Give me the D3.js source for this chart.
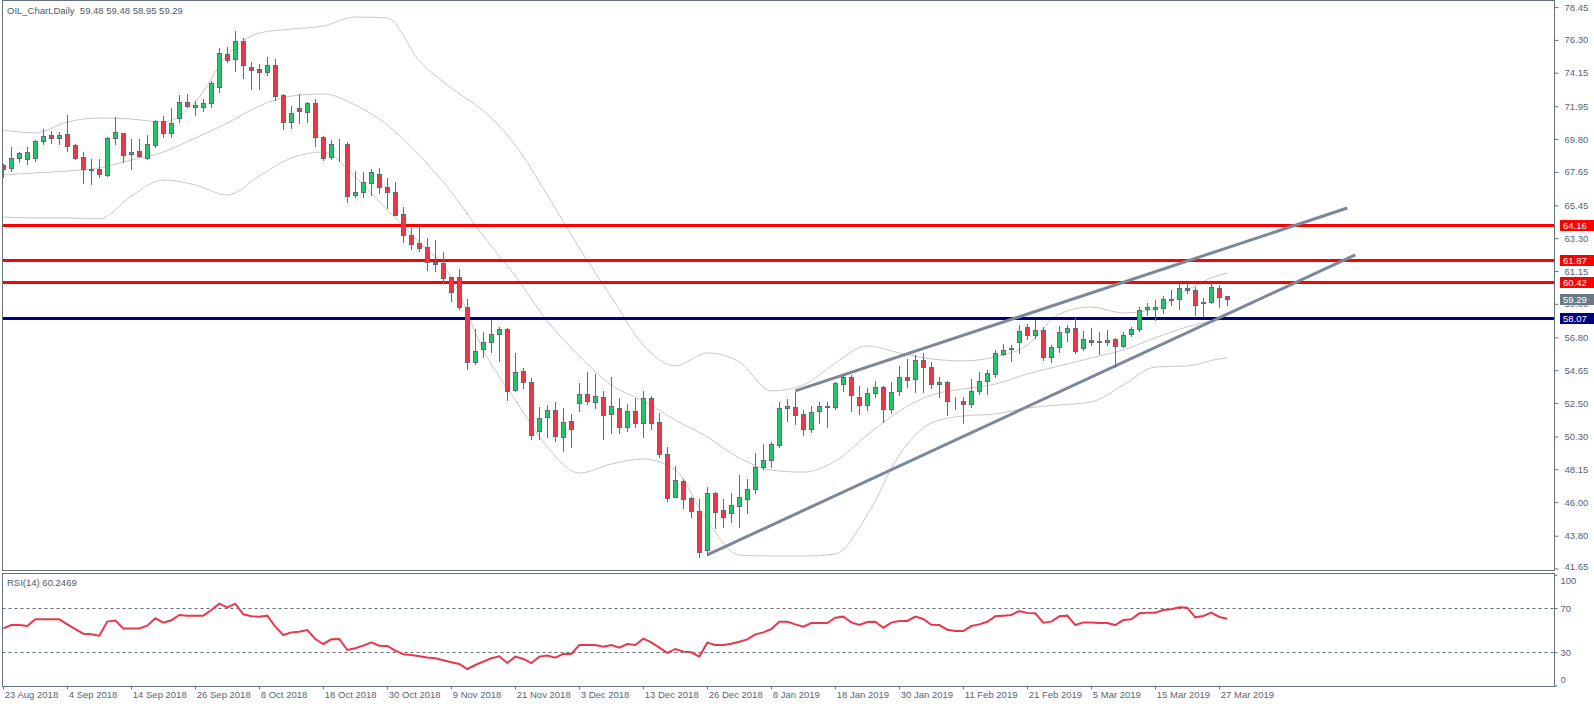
<!DOCTYPE html>
<html>
<head>
<meta charset="utf-8">
<script src="https://cdn.jsdelivr.net/npm/d3@7"></script>
<style>
  html, body { margin: 0; padding: 0; background: #fff; }
  svg { display: block; font-family: "Liberation Sans", Arial, sans-serif; }
  .tick text { fill: #56657a; font-size: 9.5px; }
</style>
</head>
<body>
<svg id="chart" width="1594" height="707"></svg>
<script>
// daily candles, bar 0 = 23 Aug 2018, last bar = 28 Mar 2019
const openP = [68.10,67.88,68.54,68.47,68.54,69.65,70.04,69.85,70.11,69.41,68.60,67.86,67.82,67.47,69.85,70.17,68.80,68.99,68.54,69.43,
  70.98,70.17,71.16,72.21,71.88,71.92,72.14,73.23,75.35,75.03,76.23,74.55,74.37,74.18,74.63,72.69,70.94,71.81,71.60,72.14,
  69.91,68.65,69.48,69.45,66.11,66.31,66.90,67.49,66.64,66.31,64.87,63.49,62.99,62.70,61.76,61.65,60.74,60.74,58.81,55.21,
  56.02,56.52,57.00,57.33,53.38,54.62,53.90,50.64,51.56,52.06,50.25,51.30,52.48,53.07,52.54,52.87,51.76,52.15,50.90,51.98,
  51.17,52.81,51.23,49.13,46.31,47.37,46.25,45.40,42.86,46.58,45.46,45.27,45.77,46.19,46.84,48.28,48.76,49.73,52.15,52.26,
  51.76,50.77,52.00,52.26,52.22,53.76,54.18,52.92,52.35,53.13,53.57,52.09,53.26,54.23,54.05,55.30,54.84,53.72,53.90,52.66,
  52.61,52.41,53.31,53.96,54.42,55.73,56.02,56.48,57.46,56.98,57.26,55.54,56.15,57.13,57.39,56.08,56.61,56.52,56.48,56.67,
  56.24,57.02,57.35,58.64,58.68,58.70,59.23,59.30,60.02,59.88,59.03,59.12,60.02,59.48];
const highP = [68.15,69.30,68.97,69.30,69.74,70.44,70.33,70.24,71.38,69.48,68.97,68.52,68.47,69.96,71.27,70.22,69.83,69.83,70.09,71.05,
  71.31,71.81,72.69,72.73,72.32,72.40,73.61,75.75,75.86,76.88,76.45,74.85,74.70,75.20,75.03,72.75,71.97,72.73,72.25,72.40,
  70.00,69.74,69.78,69.59,67.71,67.62,67.84,67.93,67.23,66.97,65.32,63.95,64.10,63.29,63.18,62.37,60.78,61.26,59.29,57.32,
  57.18,57.94,57.50,57.39,55.80,54.77,54.12,52.22,52.37,52.54,52.15,51.76,53.79,54.51,54.40,53.29,54.18,52.81,52.43,52.81,
  53.29,52.96,51.82,49.64,48.37,47.52,46.35,46.19,47.02,46.69,46.19,46.58,47.78,47.50,49.20,49.81,49.94,52.56,52.74,53.24,
  52.04,52.30,52.56,52.59,53.90,54.40,54.33,53.61,53.46,53.94,53.61,53.90,54.93,55.38,55.65,55.75,55.21,54.23,53.96,52.92,
  52.92,54.07,54.55,54.66,55.97,56.37,56.30,57.61,57.68,57.94,57.50,56.28,57.55,57.61,58.05,57.22,57.39,57.18,57.28,56.74,
  57.18,57.50,58.81,59.07,59.25,59.51,59.91,60.34,60.43,60.08,59.36,60.39,60.23,59.48];
const lowP = [67.33,67.73,68.32,68.17,68.38,69.48,69.56,69.48,69.04,68.49,66.94,66.83,67.29,67.40,69.45,68.32,67.86,68.65,68.52,69.30,
  69.96,69.92,70.94,71.88,71.38,71.66,71.88,72.91,74.87,74.28,73.82,73.06,73.06,73.98,72.34,70.44,70.55,70.83,70.94,69.34,
  68.43,68.52,68.38,65.70,65.98,65.98,66.13,66.29,65.30,64.80,63.07,62.61,62.48,61.22,61.17,60.39,59.21,58.64,54.71,55.06,
  55.54,55.86,55.28,52.70,53.30,53.51,50.12,50.12,50.29,50.03,49.38,49.64,52.00,52.41,52.15,50.12,50.55,50.55,50.69,50.95,
  50.29,50.82,48.98,46.10,46.31,45.62,45.05,42.38,42.54,44.33,44.39,44.72,44.35,45.31,46.62,48.15,48.28,49.64,51.34,51.12,
  50.38,50.62,51.21,50.95,52.08,53.31,52.00,51.78,52.04,52.92,51.28,51.82,53.02,53.57,53.24,53.24,53.46,52.87,51.71,52.08,
  51.21,52.26,53.09,53.09,54.18,55.65,55.27,55.80,56.72,56.78,55.32,55.17,55.86,56.59,55.75,55.97,56.28,55.71,56.30,54.88,
  56.15,56.89,57.24,58.27,57.94,58.38,58.92,58.64,59.69,58.27,58.22,59.03,58.81,58.95];
const closeP = [67.82,68.54,68.89,68.93,69.67,70.00,69.85,70.04,69.35,68.58,67.84,67.80,67.51,69.87,70.24,68.73,68.93,68.67,69.45,70.98,
  70.17,70.83,72.21,71.99,72.01,72.14,73.45,75.42,74.98,76.21,74.65,74.33,74.22,74.63,72.60,70.94,71.49,71.66,72.19,69.96,
  68.58,69.45,69.50,66.07,66.35,66.97,67.62,66.64,66.31,64.82,63.49,62.90,62.64,61.72,61.59,60.71,59.75,58.81,55.21,55.93,
  56.52,57.00,57.32,53.31,54.55,53.85,50.42,51.54,52.06,50.31,51.23,50.77,53.07,52.61,52.94,51.69,52.28,50.90,51.95,51.17,
  52.81,51.17,49.13,46.25,47.45,46.19,45.40,42.71,46.58,45.38,45.05,45.81,46.34,46.84,48.28,48.76,49.79,52.15,52.30,51.69,
  50.77,51.93,52.28,52.30,53.79,54.23,53.00,52.35,53.13,53.53,52.09,53.24,54.18,54.01,55.30,54.84,53.72,53.85,52.61,52.66,
  52.41,53.31,53.92,54.44,55.75,55.98,56.10,57.24,56.94,57.26,55.54,56.17,57.13,57.39,55.91,56.67,56.50,56.56,56.63,56.24,
  56.98,57.33,58.60,58.77,58.79,59.30,59.30,60.02,59.88,58.92,59.12,60.08,59.43,59.29];

// RSI(14), one value per bar
const rsiVals = [51.6,54.6,54.6,53.7,59.8,59.8,59.8,59.8,55.2,51.0,46.8,46.2,45.0,57.7,58.6,51.6,51.6,51.6,54.0,60.7,
  56.8,58.9,63.7,63.1,63.1,63.1,68.2,73.9,70.6,73.9,64.3,62.5,62.2,63.1,53.1,45.6,48.0,48.6,50.1,42.0,
  37.5,41.7,42.0,32.1,33.6,36.0,39.0,36.0,35.7,31.5,28.2,27.6,26.4,25.2,24.6,22.8,21.0,19.5,14.9,18.5,
  21.6,24.6,26.4,20.3,26.1,24.0,20.3,26.1,27.0,25.2,28.5,28.5,36.6,36.6,36.6,35.1,36.6,34.2,37.5,36.6,
  42.3,39.0,34.2,29.4,33.0,30.6,30.0,26.1,38.7,36.6,36.6,37.8,39.6,41.7,46.2,48.0,51.0,57.6,57.6,55.2,
  53.1,56.4,56.4,56.4,61.3,62.2,57.0,54.6,57.3,57.6,52.2,56.8,58.3,58.3,62.2,60.1,54.9,54.6,50.4,49.2,
  49.2,53.7,55.2,57.6,62.5,63.1,63.7,67.3,65.5,65.2,56.8,57.7,62.5,63.1,54.6,57.0,57.0,56.4,56.4,54.6,
  59.1,59.8,65.2,65.8,65.8,68.2,68.8,70.6,70.3,61.6,62.8,65.8,61.9,60.25];

// Bollinger bands read every 4 bars
const bbIdx = [0,4,8,12,16,20,24,28,32,36,40,44,48,52,56,60,64,68,72,76,80,84,88,92,96,100,104,108,112,116,120,124,128,132,136,140,144,148,152,153];
const bbUpper = [70.39,70.20,70.92,71.18,71.11,70.92,72.23,75.31,76.75,77.01,77.21,77.80,77.74,74.92,73.15,71.64,69.41,66.13,62.66,59.45,
  56.30,54.93,55.78,55.19,53.29,53.68,55.12,56.24,55.78,55.39,55.26,55.52,56.30,58.33,58.79,58.40,58.66,59.91,60.89,61.02];
const bbMiddle = [67.45,67.58,67.71,67.90,68.43,68.95,69.87,70.85,71.97,72.62,72.75,72.03,70.72,68.75,66.33,63.45,60.82,57.87,55.58,53.68,
  52.63,51.38,50.27,48.89,48.10,47.97,48.69,50.40,51.97,53.02,53.42,53.74,54.40,54.93,55.45,55.98,56.77,57.49,57.95,58.01];
const bbLower = [64.69,64.63,64.63,64.56,66.07,67.12,66.79,66.13,67.38,68.56,68.95,67.31,65.15,63.05,60.76,55.97,52.70,49.62,47.91,48.50,
  48.83,48.10,44.76,42.53,42.47,42.47,42.60,45.16,49.09,51.19,51.65,51.78,52.17,52.37,52.57,53.68,54.86,54.93,55.39,55.45];

const dateTickIdx = [0,8,16,24,32,40,48,56,64,72,80,88,96,104,112,120,128,136,144,152];
const dateTickLabels = ['23 Aug 2018','4 Sep 2018','14 Sep 2018','26 Sep 2018','8 Oct 2018','18 Oct 2018','30 Oct 2018',
  '9 Nov 2018','21 Nov 2018','3 Dec 2018','13 Dec 2018','26 Dec 2018','8 Jan 2019','18 Jan 2019','30 Jan 2019',
  '11 Feb 2019','21 Feb 2019','5 Mar 2019','15 Mar 2019','27 Mar 2019'];
const priceTicks = [78.45,76.30,74.15,71.95,69.80,67.65,65.45,63.30,61.15,59.00,56.80,54.65,52.50,50.30,48.15,46.00,43.80,41.65];
const rsiTicks = [0,30,70,100];
const rsiLevels = [30,70];

const resistLevels = [64.16,61.87,60.42];
const supportLevel = 58.07;
const lastPrice = 59.29;
// channel trend lines: [bar, price] endpoints
const channelUpper = [[99,53.29],[168,65.28]];
const channelLower = [[88,42.54],[169,62.21]];

const left = 2.5, right = 1554.5;
const mainTop = 0.5, mainBottom = 570.5;
const rsiTop = 573.5, rsiBottom = 686.5;

const cGreen = '#27c46b', cRed = '#eb3848', cEdge = '#5f6d7a', cFrame = '#66737f';

const x = d3.scaleLinear().domain([0, 153]).range([3.3, 3.3 + 8 * 153]);
const y = d3.scaleLinear().domain([41.65, 78.45]).range([568.5, 7.1]);
const yr = d3.scaleLinear().domain([0, 100]).range([685.5, 574.8]);

const svg = d3.select('#chart');

const defs = svg.append('defs');
defs.append('clipPath').attr('id', 'clipMain')
  .append('rect').attr('x', 3).attr('y', 1).attr('width', right - 3).attr('height', mainBottom - 1);
defs.append('clipPath').attr('id', 'clipRsi')
  .append('rect').attr('x', 3).attr('y', rsiTop + 0.5).attr('width', right - 3).attr('height', rsiBottom - rsiTop - 1);

const main = svg.append('g').attr('clip-path', 'url(#clipMain)');

// bollinger bands
const bbLine = d3.line().x((d, i) => x(bbIdx[i])).y(d => y(d)).curve(d3.curveMonotoneX);
[bbUpper, bbMiddle, bbLower].forEach(arr => {
  main.append('path').attr('d', bbLine(arr))
    .attr('fill', 'none').attr('stroke', '#c8c8c8').attr('stroke-width', 1);
});

// horizontal levels
const px = v => Math.round(y(v)) + 0.5;
resistLevels.forEach(v => {
  main.append('line').attr('x1', left).attr('x2', right).attr('y1', px(v)).attr('y2', px(v))
    .attr('stroke', '#ff0000').attr('stroke-width', 3);
});
main.append('line').attr('x1', left).attr('x2', right).attr('y1', px(supportLevel)).attr('y2', px(supportLevel))
  .attr('stroke', '#000080').attr('stroke-width', 3);

// channel
[channelUpper, channelLower].forEach(seg => {
  main.append('line')
    .attr('x1', x(seg[0][0])).attr('y1', y(seg[0][1]))
    .attr('x2', x(seg[1][0])).attr('y2', y(seg[1][1]))
    .attr('stroke', '#7a8899').attr('stroke-width', 3);
});

// candles
const bars = d3.range(openP.length);
const candle = main.selectAll('.candle').data(bars).enter().append('g').attr('class', 'candle');
candle.append('line')
  .attr('x1', i => Math.round(x(i)) + 0.5).attr('x2', i => Math.round(x(i)) + 0.5)
  .attr('y1', i => Math.round(y(highP[i]))).attr('y2', i => Math.round(y(lowP[i])) + 1)
  .attr('stroke', cEdge).attr('stroke-width', 1);
candle.append('rect')
  .attr('x', i => Math.round(x(i)) - 1.5)
  .attr('width', 4)
  .attr('y', i => Math.round(y(Math.max(openP[i], closeP[i]))) + 0.5)
  .attr('height', i => Math.max(0, Math.round(y(Math.min(openP[i], closeP[i]))) - Math.round(y(Math.max(openP[i], closeP[i])))))
  .attr('fill', i => closeP[i] >= openP[i] ? cGreen : cRed)
  .attr('stroke', cEdge).attr('stroke-width', 1);

// frames
svg.append('rect').attr('x', left).attr('y', mainTop).attr('width', right - left).attr('height', mainBottom - mainTop)
  .attr('fill', 'none').attr('stroke', cFrame).attr('stroke-width', 1);
svg.append('rect').attr('x', left).attr('y', rsiTop).attr('width', right - left).attr('height', rsiBottom - rsiTop)
  .attr('fill', 'none').attr('stroke', cFrame).attr('stroke-width', 1);

// price axis
const yAxis = d3.axisRight(y).tickValues(priceTicks).tickFormat(d3.format('.2f')).tickSize(4).tickPadding(6);
const gy = svg.append('g').attr('transform', 'translate(' + right + ',0)').call(yAxis);
gy.select('.domain').remove();
gy.selectAll('.tick line').attr('stroke', cFrame);
gy.selectAll('.tick text').filter(d => d === 41.65).attr('y', -2);

// price tags on the axis
function tag(v, bg) {
  const yy = Math.round(y(v));
  svg.append('rect').attr('x', 1560).attr('y', yy - 5).attr('width', 34).attr('height', 11).attr('fill', bg);
  svg.append('text').attr('x', 1563).attr('y', yy + 4).attr('fill', '#fff')
    .style('font-size', '9.5px').text(v.toFixed(2));
}
tag(lastPrice, '#6b7886');
resistLevels.forEach(v => tag(v, '#ff0000'));
tag(supportLevel, '#000080');

// rsi
const rsi = svg.append('g').attr('clip-path', 'url(#clipRsi)');
rsiLevels.forEach(v => {
  rsi.append('line').attr('x1', left).attr('x2', right)
    .attr('y1', Math.round(yr(v)) + 0.5).attr('y2', Math.round(yr(v)) + 0.5)
    .attr('stroke', cEdge).attr('stroke-dasharray', '3,3');
});
rsi.append('path')
  .attr('d', d3.line().x((d, i) => x(i)).y(d => yr(d))(rsiVals))
  .attr('fill', 'none').attr('stroke', '#e8394a').attr('stroke-width', 2);

const rAxis = d3.axisRight(yr).tickValues(rsiTicks).tickSize(3).tickPadding(3);
const gr = svg.append('g').attr('transform', 'translate(' + right + ',0)').call(rAxis);
gr.select('.domain').remove();
gr.selectAll('.tick line').attr('stroke', cFrame);
// end labels kept inside the panel, as the terminal does
gr.selectAll('.tick text').attr('y', d => d === 100 ? 6 : d === 0 ? -6 : 0);

// date axis
const xAxis = d3.axisBottom(x).tickValues(dateTickIdx).tickFormat((d, i) => dateTickLabels[i]).tickSize(3);
const gx = svg.append('g').attr('transform', 'translate(0,' + rsiBottom + ')').call(xAxis);
gx.select('.domain').remove();
gx.selectAll('.tick line').attr('stroke', cFrame).attr('x1', -0.3).attr('x2', -0.3);
gx.selectAll('.tick text').attr('text-anchor', 'start').attr('x', 1).attr('y', 11.5).attr('dy', 0);

// titles
svg.append('text').attr('x', 7).attr('y', 14).attr('fill', '#4c5b6b').style('font-size', '9.5px')
  .attr('xml:space', 'preserve').text('OIL_Chart,Daily  59.48 59.48 58.95 59.29');
svg.append('text').attr('x', 7).attr('y', 586).attr('fill', '#4c5b6b').style('font-size', '9.5px')
  .text('RSI(14) 60.2469');
</script>
</body>
</html>
